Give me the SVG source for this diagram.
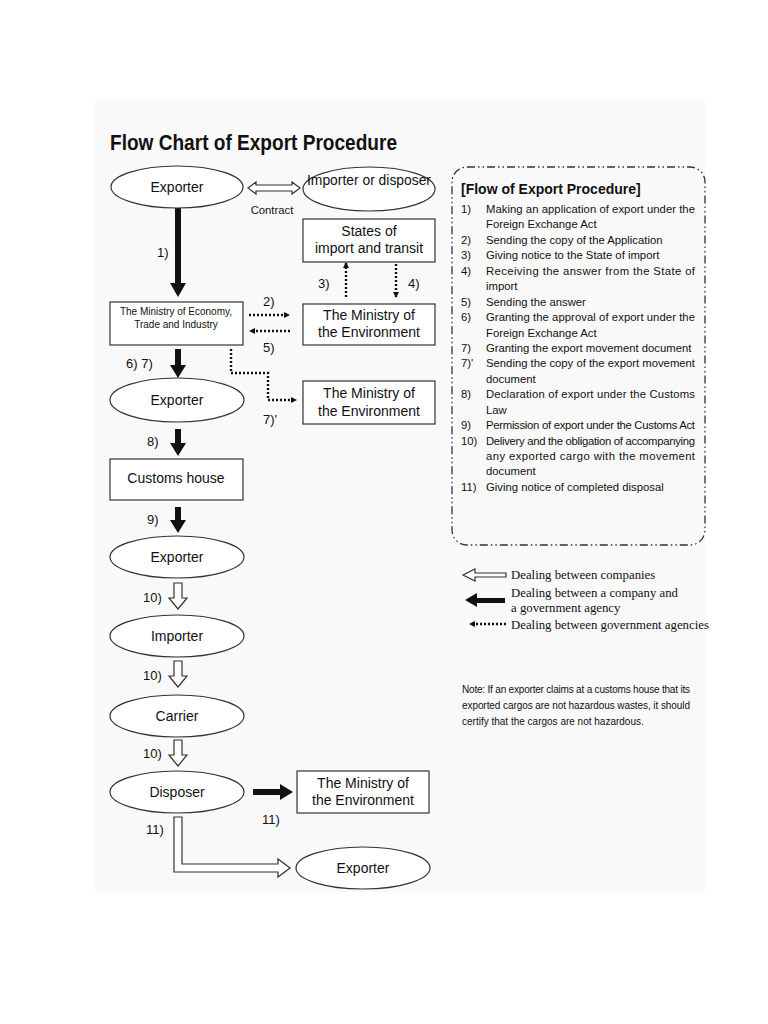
<svg xmlns="http://www.w3.org/2000/svg" width="768" height="1024" viewBox="0 0 768 1024">
<style>
text{font-family:"Liberation Sans",Arial,sans-serif;fill:#111}
.n{font-size:14px}
.l{font-size:13px}
.s{font-size:11.3px}
.node{fill:#fff;stroke:#333;stroke-width:1.2}
.blk{fill:#111;stroke:none}
.hol{fill:#fff;stroke:#333;stroke-width:1.2}
.dot{fill:none;stroke:#111;stroke-width:2.4;stroke-dasharray:2 2}
.ser{font-family:"Liberation Serif","Times New Roman",serif;font-size:12.8px}
</style>
<defs>
<marker id="dh" markerWidth="6" markerHeight="6" refX="5" refY="3" orient="auto" markerUnits="userSpaceOnUse"><path d="M0,0 L6,3 L0,6 Z" fill="#111"/></marker>
</defs>
<rect x="0" y="0" width="768" height="1024" fill="#fff"/>
<rect x="95" y="100" width="610" height="792" fill="#f9f9f9"/>
<text x="110" y="150" style="font-size:22px;font-weight:bold" textLength="287" lengthAdjust="spacingAndGlyphs">Flow Chart of Export Procedure</text>

<g id="connectors">
<path d="M248,188 l8,-6 v3 h36 v-3 l8,6 l-8,6 v-3 h-36 v3 z" class="hol"/>
<path d="M175,205 h6 v78 h5 l-8,14 l-8,-14 h5 z" class="blk"/>
<path d="M175,349 h6 v16 h5 l-8,13 l-8,-13 h5 z" class="blk"/>
<path d="M175,429 h6 v14 h5 l-8,13 l-8,-13 h5 z" class="blk"/>
<path d="M175,507 h6 v13 h5 l-8,13 l-8,-13 h5 z" class="blk"/>
<path d="M174,583 h8 v15 h5 l-9,11 l-9,-11 h5 z" class="hol"/>
<path d="M174,661 h8 v15 h5 l-9,11 l-9,-11 h5 z" class="hol"/>
<path d="M174,740 h8 v15 h5 l-9,11 l-9,-11 h5 z" class="hol"/>
<path d="M253,789 h27 v-5 l13,8 l-13,8 v-5 h-27 z" class="blk"/>
<path d="M174,817 h8 v47 h96 v-5 l12,9 l-12,9 v-5 h-104 z" class="hol"/>
<path d="M249,315 H289" class="dot" marker-end="url(#dh)"/>
<path d="M290,331 H250" class="dot" marker-end="url(#dh)"/>
<path d="M346,297 V263" class="dot" marker-end="url(#dh)"/>
<path d="M396,264 V297" class="dot" marker-end="url(#dh)"/>
<path d="M231,349 V373 H268 V400 H296" class="dot" marker-end="url(#dh)"/>
<text x="272" y="214" class="s" text-anchor="middle">Contract</text>
<text x="157" y="257" class="l">1)</text>
<text x="263" y="306" class="l">2)</text>
<text x="263" y="352" class="l">5)</text>
<text x="318" y="288" class="l">3)</text>
<text x="408" y="288" class="l">4)</text>
<text x="126" y="368" class="l">6)   7)</text>
<text x="263" y="424" class="l">7)'</text>
<text x="147" y="446" class="l">8)</text>
<text x="147" y="524" class="l">9)</text>
<text x="143" y="602" class="l">10)</text>
<text x="143" y="680" class="l">10)</text>
<text x="143" y="758" class="l">10)</text>
<text x="262" y="824" class="l">11)</text>
<text x="146" y="834" class="l">11)</text>
</g>

<g id="exporter1"><ellipse cx="177" cy="187" rx="66" ry="21" class="node"/><text x="177" y="192" class="n" text-anchor="middle">Exporter</text></g>
<g id="importer-disposer"><ellipse cx="369" cy="189" rx="66" ry="22" class="node"/><text x="369" y="185" class="n" text-anchor="middle" textLength="124" lengthAdjust="spacingAndGlyphs">Importer or disposer</text></g>
<g id="states"><rect x="303" y="219" width="132" height="43" class="node"/><text x="369" y="236" class="n" text-anchor="middle">States of</text><text x="369" y="253" class="n" text-anchor="middle">import and transit</text></g>
<g id="meti"><rect x="110" y="302" width="133" height="43" class="node"/><text x="176" y="315" style="font-size:10px" text-anchor="middle">The Ministry of Economy,</text><text x="176" y="328" style="font-size:10px" text-anchor="middle">Trade and Industry</text></g>
<g id="moe1"><rect x="303" y="304" width="132" height="41" class="node"/><text x="369" y="320" class="n" text-anchor="middle">The Ministry of</text><text x="369" y="337" class="n" text-anchor="middle">the Environment</text></g>
<g id="exporter2"><ellipse cx="177" cy="400" rx="67" ry="22" class="node"/><text x="177" y="405" class="n" text-anchor="middle">Exporter</text></g>
<g id="moe2"><rect x="303" y="381" width="132" height="43" class="node"/><text x="369" y="398" class="n" text-anchor="middle">The Ministry of</text><text x="369" y="416" class="n" text-anchor="middle">the Environment</text></g>
<g id="customs"><rect x="110" y="459" width="133" height="41" class="node"/><text x="176" y="483" class="n" text-anchor="middle">Customs house</text></g>
<g id="exporter3"><ellipse cx="177" cy="557" rx="67" ry="21" class="node"/><text x="177" y="562" class="n" text-anchor="middle">Exporter</text></g>
<g id="importer"><ellipse cx="177" cy="636" rx="67" ry="21" class="node"/><text x="177" y="641" class="n" text-anchor="middle">Importer</text></g>
<g id="carrier"><ellipse cx="177" cy="716" rx="67" ry="21" class="node"/><text x="177" y="721" class="n" text-anchor="middle">Carrier</text></g>
<g id="disposer"><ellipse cx="177" cy="792" rx="67" ry="21" class="node"/><text x="177" y="797" class="n" text-anchor="middle">Disposer</text></g>
<g id="moe3"><rect x="297" y="771" width="132" height="42" class="node"/><text x="363" y="788" class="n" text-anchor="middle">The Ministry of</text><text x="363" y="805" class="n" text-anchor="middle">the Environment</text></g>
<g id="exporter4"><ellipse cx="363" cy="868" rx="67" ry="21" class="node"/><text x="363" y="873" class="n" text-anchor="middle">Exporter</text></g>

<g id="procedure-box">
<rect x="452" y="167" width="253" height="378" rx="15" fill="none" stroke="#333" stroke-width="1.3" stroke-dasharray="8 3 1.5 3 1.5 3"/>
<text x="461" y="194" style="font-size:14px;font-weight:bold">[Flow of Export Procedure]</text>
<g class="s">
<text x="461" y="213">1)</text><text x="486" y="213" textLength="209">Making an application of export under the</text>
<text x="486" y="228">Foreign Exchange Act</text>
<text x="461" y="244">2)</text><text x="486" y="244">Sending the copy of the Application</text>
<text x="461" y="259">3)</text><text x="486" y="259">Giving notice to the State of import</text>
<text x="461" y="275">4)</text><text x="486" y="275" textLength="209">Receiving the answer from the State of</text>
<text x="486" y="290">import</text>
<text x="461" y="306">5)</text><text x="486" y="306">Sending the answer</text>
<text x="461" y="321">6)</text><text x="486" y="321" textLength="209">Granting the approval of export under the</text>
<text x="486" y="337">Foreign Exchange Act</text>
<text x="461" y="352">7)</text><text x="486" y="352">Granting the export movement document</text>
<text x="461" y="367">7)'</text><text x="486" y="367" textLength="209">Sending the copy of the export movement</text>
<text x="486" y="383">document</text>
<text x="461" y="398">8)</text><text x="486" y="398" textLength="209">Declaration of export under the Customs</text>
<text x="486" y="414">Law</text>
<text x="461" y="429">9)</text><text x="486" y="429" textLength="209">Permission of export under the Customs Act</text>
<text x="461" y="445">10)</text><text x="486" y="445" textLength="209">Delivery and the obligation of accompanying</text>
<text x="486" y="460" textLength="209">any exported cargo with the movement</text>
<text x="486" y="475">document</text>
<text x="461" y="491">11)</text><text x="486" y="491">Giving notice of completed disposal</text>
</g>
</g>

<g id="legend">
<path d="M463,575 l12,-6 v4 h31 v4 h-31 v4 z" class="hol"/>
<path d="M465,600 l12,-7 v5 h28 v5 h-28 v4 z" class="blk"/>
<path d="M506,624 H470" class="dot" marker-end="url(#dh)"/>
<text x="511" y="579" class="ser">Dealing between companies</text>
<text x="511" y="597" class="ser">Dealing between a company and</text>
<text x="511" y="612" class="ser">a government agency</text>
<text x="511" y="629" class="ser">Dealing between government agencies</text>
</g>
<g id="note" style="font-size:10px">
<text x="462" y="693" textLength="228">Note: If an exporter claims at a customs house that its</text>
<text x="462" y="709" textLength="228">exported cargos are not hazardous wastes, it should</text>
<text x="462" y="725">certify that the cargos are not hazardous.</text>
</g>
</svg>
